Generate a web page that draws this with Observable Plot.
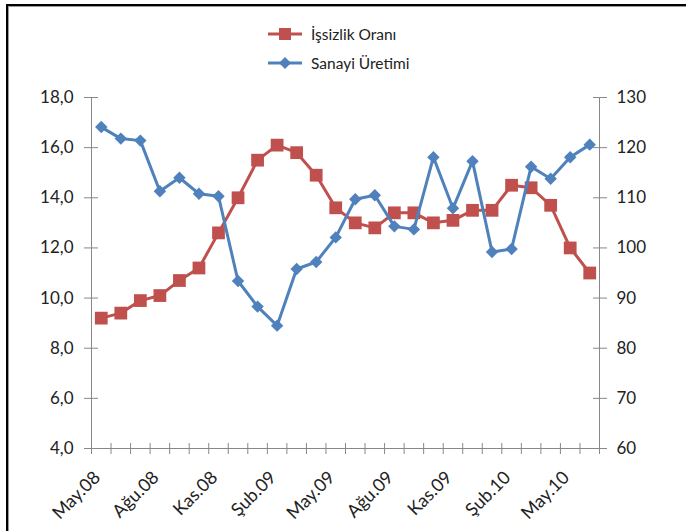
<!DOCTYPE html>
<html><head><meta charset="utf-8">
<script src="https://cdn.jsdelivr.net/npm/d3@7"></script>
<script src="https://cdn.jsdelivr.net/npm/@observablehq/plot@0.6"></script>
<style>
body{margin:0;background:#fff;}
#wrap{position:relative;width:686px;height:531px;overflow:hidden;font-family:Lato,sans-serif;background:#fff;}
#frame{position:absolute;left:6px;top:4px;width:800px;height:700px;border-top:2px solid #000;border-left:2px solid #000;}
#frame2{position:absolute;left:8px;top:6px;width:800px;height:700px;border-top:1px solid #999;border-left:1px solid #999;}
#legend{position:absolute;left:268px;top:19px;font-size:15.5px;color:#222;}
.item{display:flex;align-items:center;height:29px;}
.item svg{margin-right:7px;}
#chart{position:absolute;left:0;top:0;}
</style></head>
<body>
<div id="wrap">
<div id="frame"></div><div id="frame2"></div>
<div id="chart"></div>
<div id="legend"></div>
</div>
<script>
const months = ["May.08","Haz.08","Tem.08","Ağu.08","Eyl.08","Eki.08","Kas.08","Ara.08","Oca.09","Şub.09","Mar.09","Nis.09","May.09","Haz.09","Tem.09","Ağu.09","Eyl.09","Eki.09","Kas.09","Ara.09","Oca.10","Şub.10","Mar.10","Nis.10","May.10","Haz.10"];
const unemployment = [9.2,9.4,9.9,10.1,10.7,11.2,12.6,14.0,15.5,16.1,15.8,14.9,13.6,13.0,12.8,13.4,13.4,13.0,13.1,13.5,13.5,14.5,14.4,13.7,12.0,11.0];
const production = [124.1,121.8,121.4,111.3,114.0,110.8,110.3,93.4,88.3,84.5,95.8,97.2,102.1,109.7,110.5,104.3,103.7,118.1,107.9,117.3,99.2,99.8,116.2,113.8,118.1,120.6];
const leftTicks = [4,6,8,10,12,14,16,18];
const rightTicks = [60,70,80,90,100,110,120,130];
const labelMonths = ["May.08","Ağu.08","Kas.08","Şub.09","May.09","Ağu.09","Kas.09","Şub.10","May.10"];
const seriesNames = ["İşsizlik Oranı","Sanayi Üretimi"];
const RED = "#C0504D", BLUE = "#4F81BD";

const toLeft = d3.scaleLinear([60,130],[4,18]);
const idx = months.map((m,i)=>i);
const bounds = months.map((m,i)=>i-0.5).concat([months.length-0.5]);
const labelIdx = labelMonths.map(m=>months.indexOf(m));

const plot = Plot.plot({
  width: 686, height: 531,
  marginTop: 97, marginBottom: 83, marginLeft: 91, marginRight: 87,
  style: {fontFamily: "Lato, sans-serif", fontSize: "16px", color: "#222", background: "transparent"},
  x: {type: "linear", domain: [-0.5, months.length-0.5], axis: null},
  y: {domain: [4,18], axis: null},
  marks: [
    Plot.ruleY([4], {stroke: "#888"}),
    Plot.ruleX([-0.5, months.length-0.5], {stroke: "#888"}),
    Plot.axisX(bounds, {tickSize: 11, dy: -5, tickFormat: () => "", stroke: "#888"}),
    Plot.axisX(labelIdx, {tickSize: 0, tickPadding: 6, dy: 20, dx: -4, tickRotate: -45, tickFormat: i => months[i], fontSize: 18, fill: "#222"}),
    Plot.axisY(leftTicks, {anchor: "left", tickSize: 14, dx: 7, tickPadding: 11, stroke: "#888", fill: "#222", fontSize: 17,
      tickFormat: d => d.toFixed(1).replace(".", ",")}),
    Plot.axisY(rightTicks.map(toLeft), {anchor: "right", tickSize: 14, dx: -7, tickPadding: 10, stroke: "#888", fill: "#222", fontSize: 17,
      tickFormat: d => String(Math.round(toLeft.invert(d)))}),
    Plot.line(idx, {x: i => i, y: i => unemployment[i], stroke: RED, strokeWidth: 3}),
    Plot.dot(idx, {x: i => i, y: i => unemployment[i], symbol: "square", r: 7.2, fill: RED, stroke: null}),
    Plot.line(idx, {x: i => i, y: i => toLeft(production[i]), stroke: BLUE, strokeWidth: 3}),
    Plot.dot(idx, {x: i => i, y: i => toLeft(production[i]), symbol: "diamond2", r: 5.6, fill: BLUE, stroke: null})
  ]
});
document.getElementById("chart").appendChild(plot);

const legend = document.getElementById("legend");
const swatches = [
  `<svg width="36" height="16"><line x1="0" y1="8" x2="34" y2="8" stroke="${RED}" stroke-width="3"/><rect x="11" y="2" width="12" height="12" fill="${RED}"/></svg>`,
  `<svg width="36" height="16"><line x1="0" y1="8" x2="34" y2="8" stroke="${BLUE}" stroke-width="3"/><path d="M17,2 L23,8 L17,14 L11,8 Z" fill="${BLUE}"/></svg>`
];
seriesNames.forEach((n,i)=>{
  const d = document.createElement("div");
  d.className = "item";
  d.innerHTML = swatches[i] + `<span>${n}</span>`;
  legend.appendChild(d);
});
</script>
</body></html>
